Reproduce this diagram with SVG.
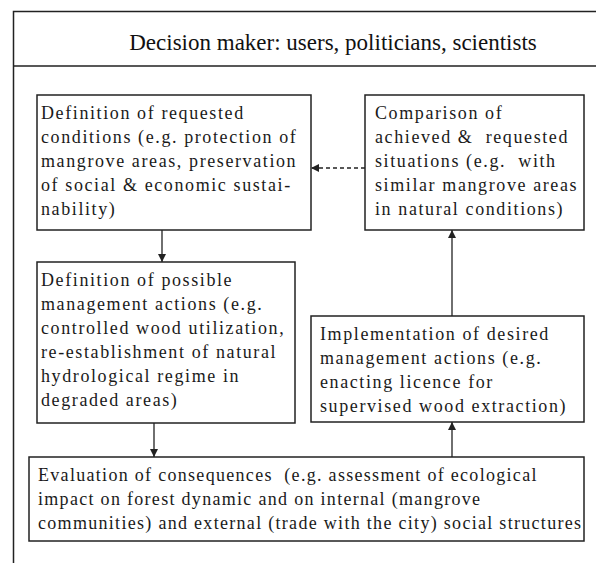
<svg xmlns="http://www.w3.org/2000/svg" width="596" height="563" viewBox="0 0 596 563">
<defs>
<style>
.frame{stroke:#222;stroke-width:1.5;fill:none}
.box{stroke:#222;stroke-width:1.5;fill:#fff}
text{font-family:"Liberation Serif","Times New Roman",serif}
.t{font-size:18px;fill:#1a1a1a;letter-spacing:1.6px}
.e{letter-spacing:1.3px}
.title{font-size:23px;fill:#111}
.c{stroke:#222;stroke-width:1.3;fill:none}
.d{stroke:#222;stroke-width:1.3;fill:none;stroke-dasharray:4 3}
</style>
<marker id="ah" viewBox="0 0 8 8" refX="8" refY="4" markerWidth="8" markerHeight="8" markerUnits="userSpaceOnUse" orient="auto">
<path d="M0,0 L8,4 L0,8 Z" fill="#222"/>
</marker>
</defs>
<rect width="596" height="563" fill="#fff"/>
<g id="frame">
<path class="frame" d="M13.5,563 V11.5 H596 M13.5,66 H596"/>
<text class="title" x="333" y="50" text-anchor="middle">Decision maker: users, politicians, scientists</text>
</g>
<g id="requested">
<rect class="box" x="37" y="95" width="274" height="135"/>
<text class="t"><tspan x="41" y="119">Definition of requested</tspan><tspan x="41" y="143">conditions (e.g. protection of</tspan><tspan x="41" y="167">mangrove areas, preservation</tspan><tspan x="41" y="191">of social &amp; economic sustai-</tspan><tspan x="41" y="215">nability)</tspan></text>
</g>
<g id="comparison">
<rect class="box" x="365" y="95" width="219" height="135"/>
<text class="t" xml:space="preserve"><tspan x="375" y="119">Comparison of</tspan><tspan x="375" y="143">achieved &amp;  requested</tspan><tspan x="375" y="167">situations (e.g.  with</tspan><tspan x="375" y="191">similar mangrove areas</tspan><tspan x="375" y="215">in natural conditions)</tspan></text>
</g>
<g id="possible">
<rect class="box" x="37" y="262" width="258" height="161"/>
<text class="t"><tspan x="41" y="286">Definition of possible</tspan><tspan x="41" y="310">management actions (e.g.</tspan><tspan x="41" y="334">controlled wood utilization,</tspan><tspan x="41" y="358">re-establishment of natural</tspan><tspan x="41" y="382">hydrological regime in</tspan><tspan x="41" y="406">degraded areas)</tspan></text>
</g>
<g id="implementation">
<rect class="box" x="311" y="316" width="273" height="106"/>
<text class="t"><tspan x="320" y="340">Implementation of desired</tspan><tspan x="320" y="364">management actions (e.g.</tspan><tspan x="320" y="388">enacting licence for</tspan><tspan x="320" y="412">supervised wood extraction)</tspan></text>
</g>
<g id="evaluation">
<rect class="box" x="29" y="457" width="555" height="84"/>
<text class="t e" xml:space="preserve"><tspan x="38" y="481">Evaluation of consequences  (e.g. assessment of ecological</tspan><tspan x="38" y="505">impact on forest dynamic and on internal (mangrove</tspan><tspan x="38" y="529">communities) and external (trade with the city) social structures</tspan></text>
</g>
<g id="connectors">
<line class="c" x1="162" y1="230" x2="162" y2="262" marker-end="url(#ah)"/>
<line class="c" x1="154" y1="423" x2="154" y2="457" marker-end="url(#ah)"/>
<line class="c" x1="452" y1="457" x2="452" y2="422" marker-end="url(#ah)"/>
<line class="c" x1="452" y1="316" x2="452" y2="230" marker-end="url(#ah)"/>
<line class="d" x1="365" y1="168" x2="311" y2="168" marker-end="url(#ah)"/>
</g>
</svg>
